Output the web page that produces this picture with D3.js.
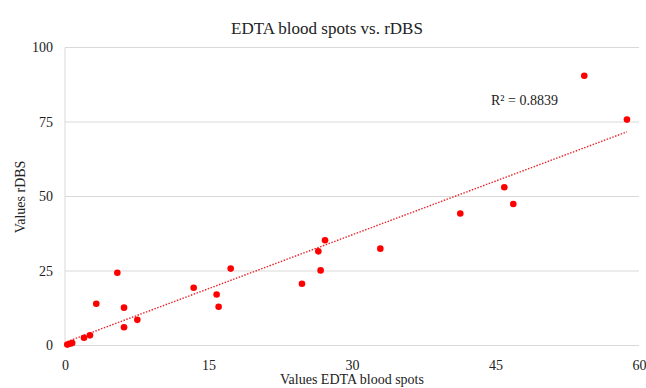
<!DOCTYPE html>
<html><head><meta charset="utf-8">
<script src="https://cdn.jsdelivr.net/npm/d3@7"></script>
<style>body{margin:0;background:#fff}svg{display:block}text{font-family:"Liberation Serif","Times New Roman",serif;fill:#222}</style>
</head><body><svg id="c" width="646" height="388"></svg>
<script>
const xValues = [0.24,0.5,0.75,1.99,2.61,3.27,5.47,6.17,6.17,7.56,13.45,15.85,16.06,17.32,24.77,26.72,26.48,27.18,32.96,41.32,45.92,46.86,54.28,58.74];
const yValues = [0.3,0.6,0.8,2.6,3.4,14.0,24.4,12.7,6.1,8.6,19.4,17.1,13.0,25.8,20.7,25.2,31.6,35.3,32.5,44.3,53.1,47.5,90.5,75.8];
const xTicks = [0,15,30,45,60];
const yTicks = [0,25,50,75,100];
const title = "EDTA blood spots vs. rDBS";
const xTitle = "Values EDTA blood spots";
const yTitle = "Values rDBS";
const r2Label = "R² = 0.8839";

const svg = d3.select("#c");
const x = d3.scaleLinear().domain([0,60]).range([65,639]);
const y = d3.scaleLinear().domain([0,100]).range([345.5,47.5]);

// gridlines
svg.append("g").selectAll("line").data(yTicks).join("line")
  .attr("x1",x(0)).attr("x2",x(60)).attr("y1",d=>y(d)).attr("y2",d=>y(d))
  .attr("stroke","#d9d9d9").attr("stroke-width",1);
svg.append("line").attr("x1",x(0)).attr("x2",x(0)).attr("y1",y(0)).attr("y2",y(100))
  .attr("stroke","#d9d9d9");

// axes with d3 axis, no tick lines
const xa = svg.append("g").attr("transform",`translate(0,${y(0)})`)
  .call(d3.axisBottom(x).tickValues(xTicks).tickSize(0).tickPadding(15).tickFormat(d3.format("d")));
xa.select(".domain").remove();
xa.selectAll("text").attr("font-size",14).attr("font-family","Liberation Serif").attr("fill","#222");
const ya = svg.append("g").attr("transform",`translate(${x(0)},0)`)
  .call(d3.axisLeft(y).tickValues(yTicks).tickSize(0).tickPadding(12).tickFormat(d3.format("d")));
ya.select(".domain").remove();
ya.selectAll("text").attr("font-size",14).attr("font-family","Liberation Serif").attr("fill","#222");

// regression
const n = xValues.length;
const mx = d3.mean(xValues), my = d3.mean(yValues);
let sxy=0,sxx=0;
for(let i=0;i<n;i++){sxy+=(xValues[i]-mx)*(yValues[i]-my);sxx+=(xValues[i]-mx)**2;}
const slope = sxy/sxx, icpt = my-slope*mx;
const [xmin,xmax] = d3.extent(xValues);
svg.append("path").attr("d",d3.line()([[x(xmin),y(icpt+slope*xmin)],[x(xmax),y(icpt+slope*xmax)]]))
  .attr("stroke","#e8262b").attr("stroke-width",1.4).attr("stroke-dasharray","1.5,1.5").attr("fill","none");

// points
svg.append("g").selectAll("circle").data(d3.range(n)).join("circle")
  .attr("cx",i=>x(xValues[i])).attr("cy",i=>y(yValues[i])).attr("r",3.3).attr("fill","#ff0000");

svg.append("text").attr("x",327).attr("y",34).attr("text-anchor","middle").attr("font-size",17).text(title);
svg.append("text").attr("x",352).attr("y",384).attr("text-anchor","middle").attr("font-size",14).text(xTitle);
svg.append("text").attr("transform","translate(25,197) rotate(-90)").attr("text-anchor","middle").attr("font-size",14).text(yTitle);
svg.append("text").attr("x",491).attr("y",105).attr("font-size",14).text(r2Label);
</script></body></html>
